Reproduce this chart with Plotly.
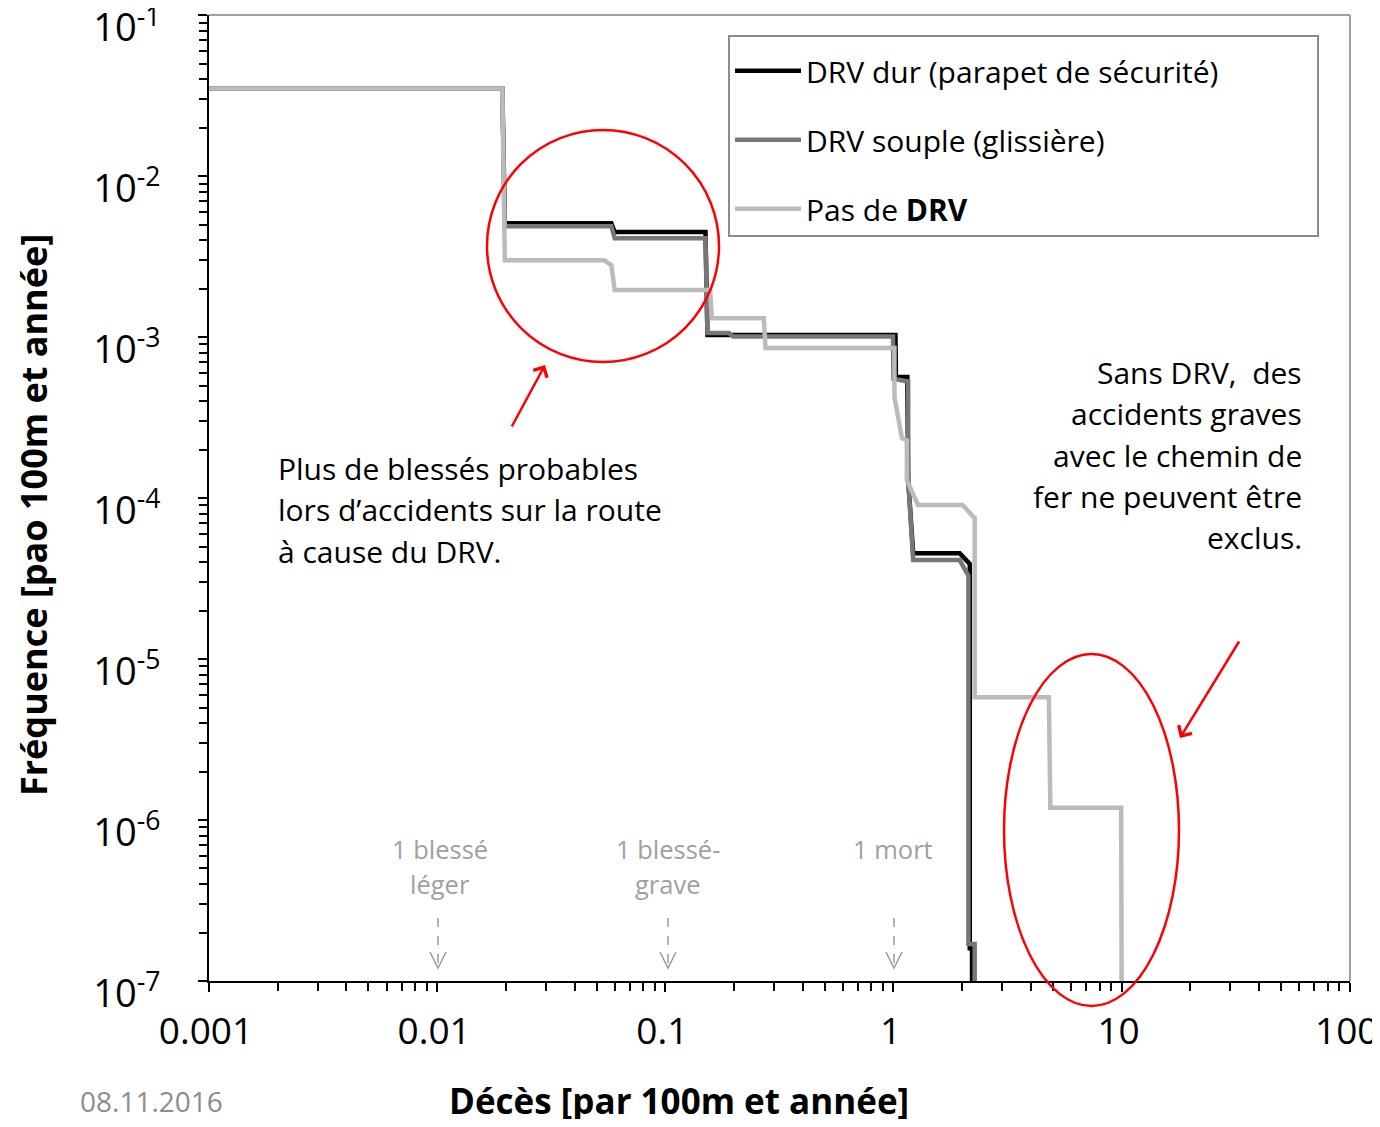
import plotly.graph_objects as go

# ---------------- data ----------------
dur_x = [0.001, 0.0193, 0.0198, 0.058, 0.060, 0.150, 0.153, 1.02, 1.025, 1.15, 1.16, 1.22, 1.95, 2.10, 2.16, 2.16, 2.21, 2.21]
dur_y = [0.035, 0.035, 0.0051, 0.0051, 0.00449, 0.00449, 0.00103, 0.00103, 5.65e-4, 5.65e-4, 1.3e-4, 4.55e-5, 4.55e-5, 4.0e-5, 3.9e-5, 1.6e-7, 1.6e-7, 1.0e-7]

souple_x = [0.001, 0.0193, 0.0198, 0.058, 0.060, 0.150, 0.153, 0.190, 0.198, 0.995, 1.0, 1.16, 1.16, 1.22, 1.95, 2.10, 2.13, 2.13, 2.27, 2.27]
souple_y = [0.035, 0.035, 0.00489, 0.00489, 0.00412, 0.00412, 0.00106, 0.00106, 0.00101, 0.00101, 5.5e-4, 5.3e-4, 1.3e-4, 4.12e-5, 4.12e-5, 3.42e-5, 3.3e-5, 1.7e-7, 1.7e-7, 1.0e-7]

nodrv_x = [0.001, 0.0193, 0.0198, 0.054, 0.058, 0.060, 0.157, 0.160, 0.270, 0.275, 1.01, 1.01, 1.089, 1.145, 1.145, 1.28, 2.01, 2.27, 2.27, 4.80, 4.87, 9.95, 10.0]
nodrv_y = [0.035, 0.035, 0.0030, 0.0030, 0.0028, 0.00196, 0.00196, 0.00131, 0.00131, 8.55e-4, 8.55e-4, 4.24e-4, 2.36e-4, 2.28e-4, 1.29e-4, 9.06e-5, 9.06e-5, 7.5e-5, 5.8e-6, 5.8e-6, 1.19e-6, 1.19e-6, 1.0e-7]

series_names = ["DRV dur (parapet de sécurité)" + "&nbsp;" * 12, "DRV souple (glissière)", "Pas de <b>DRV</b>"]
series_colors = ["#000000", "#777777", "#bbbbbb"]

x_tickvals = [0.001, 0.01, 0.1, 1, 10, 100]
x_ticktext = ["0.001", "0.01", "0.1", "1", "10", "100"]
y_tickvals = [1e-7, 1e-6, 1e-5, 1e-4, 1e-3, 1e-2, 1e-1]
y_ticktext = ["10<sup>-7</sup>", "10<sup>-6</sup>", "10<sup>-5</sup>", "10<sup>-4</sup>",
              "10<sup>-3</sup>", "10<sup>-2</sup>", "10<sup>-1</sup>"]

marker_labels = [("1 blessé", "léger"), ("1 blessé-", "grave"), ("1 mort", "")]
left_note = ["Plus de blessés probables", "lors d’accidents sur la route", "à cause du DRV."]
right_note = ["Sans DRV,  des", "accidents graves", "avec le chemin de", "fer ne peuvent être", "exclus."]

# ---------------- layout geometry ----------------
OFF = 8  # page body margin of the browser
W, H = 1380 - 2 * OFF, 1127 - 2 * OFF  # fits the page without overflow
L, R, T, B = 209 - OFF, 1350 - OFF, 15 - OFF, 981 - OFF  # plot area in figure pixels
FONT = "Open Sans"


def px(xp):
    """screen x pixel -> paper"""
    return (xp - OFF - L) / (R - L)


def py(yp):
    """screen y pixel -> paper"""
    return (B - (yp - OFF)) / (B - T)


fig = go.Figure()
# draw order: black, mid-grey, light grey on top
for (xs, ys), name, col, rank in zip(
        [(dur_x, dur_y), (souple_x, souple_y), (nodrv_x, nodrv_y)],
        series_names, series_colors, [1, 2, 3]):
    fig.add_trace(go.Scatter(x=xs, y=ys, mode="lines", name=name,
                             line=dict(color=col, width=4.5),
                             legendgroup=str(rank), legendrank=rank,
                             hoverinfo="skip"))

axis_common = dict(showline=True, linecolor="black", linewidth=2, ticks="outside",
                   ticklen=9, tickwidth=2, tickcolor="black", showgrid=False,
                   zeroline=False, ticklabeloverflow="allow", automargin=False)

fig.update_xaxes(type="log", range=[-3, 2.001], tickvals=x_tickvals, ticktext=x_ticktext,
                 ticklabelstandoff=8, ticklabelshift=-3,
                 tickfont=dict(family=FONT, size=37, color="black"),
                 minor=dict(ticks="outside", ticklen=8, tickwidth=2, tickcolor="black",
                            dtick="D1", showgrid=False),
                 **axis_common)
fig.update_yaxes(type="log", range=[-7, -0.999], tickvals=y_tickvals, ticktext=y_ticktext,
                 ticklabelstandoff=30, ticklabelshift=13,
                 tickfont=dict(family=FONT, size=38, color="black"),
                 minor=dict(ticks="outside", ticklen=8, tickwidth=2, tickcolor="black",
                            dtick="D1", showgrid=False),
                 **axis_common)

shapes = []
# top and right grey border
shapes.append(dict(type="line", xref="paper", yref="paper", x0=0, x1=1, y0=1, y1=1,
                   line=dict(color="#a0a0a0", width=2)))
shapes.append(dict(type="line", xref="paper", yref="paper", x0=1, x1=1, y0=0, y1=1,
                   line=dict(color="#a0a0a0", width=2)))
# red circle / ellipse
shapes.append(dict(type="circle", xref="paper", yref="paper",
                   x0=px(487), x1=px(719), y0=py(362), y1=py(130),
                   line=dict(color="#ff0000", width=2.5)))
shapes.append(dict(type="circle", xref="paper", yref="paper",
                   x0=px(1004), x1=px(1179), y0=py(1006), y1=py(654),
                   line=dict(color="#ff0000", width=2.5)))
# grey dashed arrows
for xa in [438, 668, 894]:
    shapes.append(dict(type="line", xref="paper", yref="paper",
                       x0=px(xa), x1=px(xa), y0=py(918), y1=py(966),
                       line=dict(color="#9a9a9a", width=1.5, dash="dash")))
    shapes.append(dict(type="path", xref="paper", yref="paper",
                       path=f"M {px(xa-8)} {py(952)} L {px(xa)} {py(968)} L {px(xa+8)} {py(952)}",
                       line=dict(color="#9a9a9a", width=1.5)))

annotations = []
# grey labels
for xa, (l1, l2) in zip([440, 668, 893], marker_labels):
    annotations.append(dict(xref="paper", yref="paper", x=px(xa), y=py(849), text=l1,
                            showarrow=False, xanchor="center", yanchor="middle",
                            font=dict(family=FONT, size=25.5, color="#a0a0a0")))
    if l2:
        annotations.append(dict(xref="paper", yref="paper", x=px(xa), y=py(884), text=l2,
                                showarrow=False, xanchor="center", yanchor="middle",
                                font=dict(family=FONT, size=25.5, color="#a0a0a0")))
# left note
for i, t in enumerate(left_note):
    annotations.append(dict(xref="paper", yref="paper", x=px(276), y=py(468 + 41.5 * i), text=t,
                            showarrow=False, xanchor="left", yanchor="middle",
                            font=dict(family=FONT, size=30, color="black")))
# right note
for i, t in enumerate(right_note):
    annotations.append(dict(xref="paper", yref="paper", x=px(1304), y=py(372 + 41.5 * i),
                            text=t.replace("  ", "&nbsp; "),
                            showarrow=False, xanchor="right", yanchor="middle",
                            font=dict(family=FONT, size=30, color="black")))
# red arrows
annotations.append(dict(xref="paper", yref="paper", x=px(545), y=py(365), ax=511 - 545, ay=428 - 365,
                        axref="pixel", ayref="pixel", text="", showarrow=True, arrowhead=4,
                        arrowsize=1.2, arrowwidth=2.5, arrowcolor="#ff0000"))
annotations.append(dict(xref="paper", yref="paper", x=px(1180), y=py(738), ax=1240 - 1180, ay=640 - 738,
                        axref="pixel", ayref="pixel", text="", showarrow=True, arrowhead=4,
                        arrowsize=1.2, arrowwidth=2.5, arrowcolor="#ff0000"))
# axis titles
annotations.append(dict(xref="paper", yref="paper", x=px(679), y=py(1100),
                        text="<b>Décès [par 100m et année]</b>", showarrow=False,
                        xanchor="center", yanchor="middle",
                        font=dict(family=FONT, size=35, color="black")))
annotations.append(dict(xref="paper", yref="paper", x=px(33), y=py(515),
                        text="<b>Fréquence [pao 100m et année]</b>", showarrow=False,
                        textangle=-90, xanchor="center", yanchor="middle",
                        font=dict(family=FONT, size=36, color="black")))
# date
annotations.append(dict(xref="paper", yref="paper", x=px(78), y=py(1101), text="08.11.2016",
                        showarrow=False, xanchor="left", yanchor="middle",
                        font=dict(family=FONT, size=28, color="#8c8c8c")))

fig.update_layout(
    width=W, height=H,
    margin=dict(l=L, r=W - R, t=T, b=H - B, pad=0, autoexpand=False),
    plot_bgcolor="white", paper_bgcolor="white",
    font=dict(family=FONT, color="black"),
    showlegend=True,
    legend=dict(x=px(728), y=py(35), xanchor="left", yanchor="top",
                bgcolor="white", bordercolor="#8c8c8c", borderwidth=2,
                font=dict(family=FONT, size=30, color="black"),
                title=dict(text="&nbsp;", font=dict(size=6)),
                traceorder="grouped", tracegroupgap=27, itemwidth=66),
    shapes=shapes,
    annotations=annotations,
)

fig.write_html("out.html")
